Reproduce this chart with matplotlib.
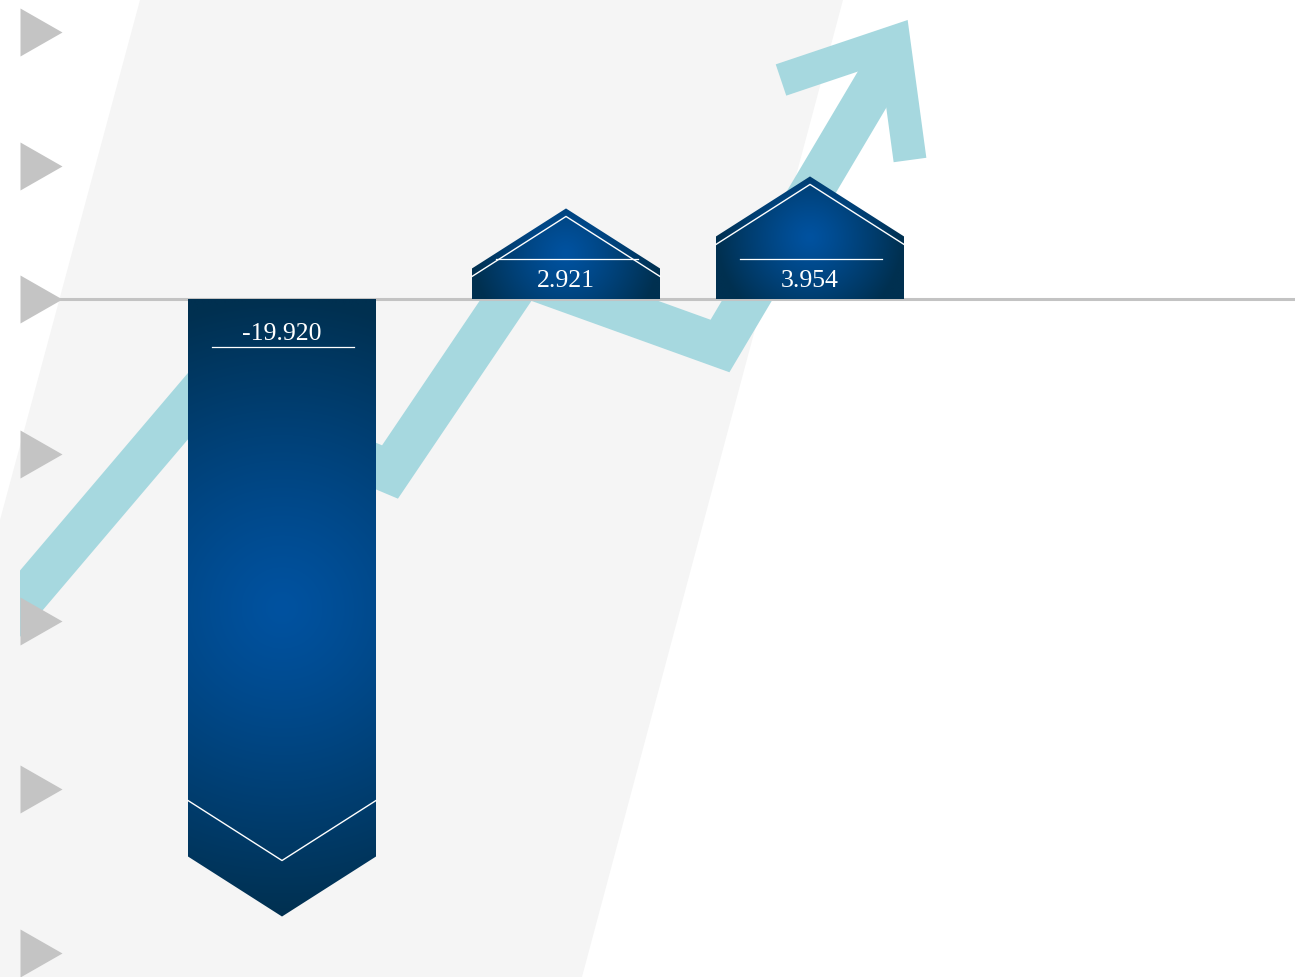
import numpy as np
import matplotlib
matplotlib.use("Agg")
from matplotlib import pyplot as plt
from matplotlib.patches import Polygon, Rectangle
from matplotlib.path import Path

# values shown on the bars
values = [-19.920, 2.921, 3.954]
labels = ["%.3f" % v for v in values]
# levels of the grey triangle ticks on the left
tick_levels = [8.6, 4.3, 0.0, -5.0, -10.4, -15.8, -21.1]

# layout (pixels of a 1295x977 canvas)
W, H = 1295, 977
px_per_unit = 31.0
zero_px = 299
bar_left = [188, 472, 716]
bar_w = 188
head_px = 60

dark = np.array([0, 48, 80]) / 255.0
bright = np.array([0, 82, 160]) / 255.0

fig = plt.figure(figsize=(W / 100, H / 100), dpi=100)

# decoration layer in pixel coords (y down)
deco = fig.add_axes([0, 0, 1, 1])
deco.set_xlim(0, W)
deco.set_ylim(H, 0)
deco.axis("off")
deco.add_patch(Polygon([(140, 0), (843, 0), (582, H), (0, H), (0, 520)],
                       closed=True, fc="#F5F5F5", ec="none"))
# trend arrow
trend_x = [-10, 200, 390, 523, 720, 892]
trend_y = [639, 392, 472, 275, 346, 56]
ln, = deco.plot(trend_x, trend_y, color="#A6D8DF", lw=43 * 0.72,
                solid_joinstyle="miter", solid_capstyle="butt")
ln.set_clip_path(Rectangle((20, -50), 2000, 2000, transform=deco.transData))
deco.plot([781, 894, 910], [80, 42, 160], color="#A6D8DF", lw=33 * 0.72,
          solid_joinstyle="miter", solid_capstyle="butt")

# main chart layer
ax = fig.add_axes([0, 0, 1, 1])
ax.patch.set_alpha(0)
ymax = zero_px / px_per_unit
ymin = -(H - zero_px) / px_per_unit
ax.axis("off")

ax.axhline(0, xmin=60 / W, xmax=1, color="#C3C3C3", lw=2.2, zorder=1)

tri = Path([(-0.875, 1), (0.875, 0), (-0.875, -1), (-0.875, 1)],
           [Path.MOVETO, Path.LINETO, Path.LINETO, Path.CLOSEPOLY])
ax.plot([41] * len(tick_levels), tick_levels, ls="none", marker=tri,
        ms=48 * 0.72, color="#C4C4C4", mec="none", zorder=2)

hu = head_px / px_per_unit
for v, lab, x0 in zip(values, labels, bar_left):
    x1 = x0 + bar_w
    xc = x0 + bar_w / 2
    sgn = 1 if v > 0 else -1
    body = v - sgn * hu
    verts = [(x0, 0), (x0, body), (xc, v), (x1, body), (x1, 0)]
    poly = Polygon(verts, closed=True, fc="none", ec="none", zorder=3)
    ax.add_patch(poly)

    # radial gradient in pixel space
    hpx = abs(v) * px_per_unit
    nx, ny = 120, max(int(hpx / 2), 40)
    gx = np.linspace(-bar_w / 2, bar_w / 2, nx)
    gy = np.linspace(-hpx / 2, hpx / 2, ny)
    GX, GY = np.meshgrid(gx, gy)
    rad = max(bar_w / 2, hpx / 2)
    r = np.sqrt(GX ** 2 + GY ** 2) / rad
    t = (np.clip(r, 0, 1) ** 1.2)[..., None]
    img = bright * (1 - t) + dark * t
    lo, hi = min(0, v), max(0, v)
    im = ax.imshow(img, extent=[x0, x1, lo, hi], origin="lower",
                   aspect="auto", zorder=3, interpolation="bilinear")
    im.set_clip_path(poly)

    if v > 0:
        off = 8 / px_per_unit
        ax.plot([x0, xc, x1], [body - off, v - off, body - off],
                color="white", lw=1.0, zorder=4)
        ly = 40 / px_per_unit
        ty = 18 / px_per_unit
    else:
        off = 56 / px_per_unit
        ax.plot([x0, xc, x1], [body + off, v + off, body + off],
                color="white", lw=1.0, zorder=4)
        ly = -48 / px_per_unit
        ty = -35 / px_per_unit
    ax.plot([x0 + 24, x1 - 22], [ly, ly], color="white", lw=0.9, zorder=4)
    ax.text(xc, ty, lab, color="white", ha="center", va="center",
            fontsize=18.5, family="Liberation Serif", zorder=5)

ax.set_xlim(0, W)
ax.set_ylim(ymin, ymax)

fig.savefig("out.png", dpi=100)
